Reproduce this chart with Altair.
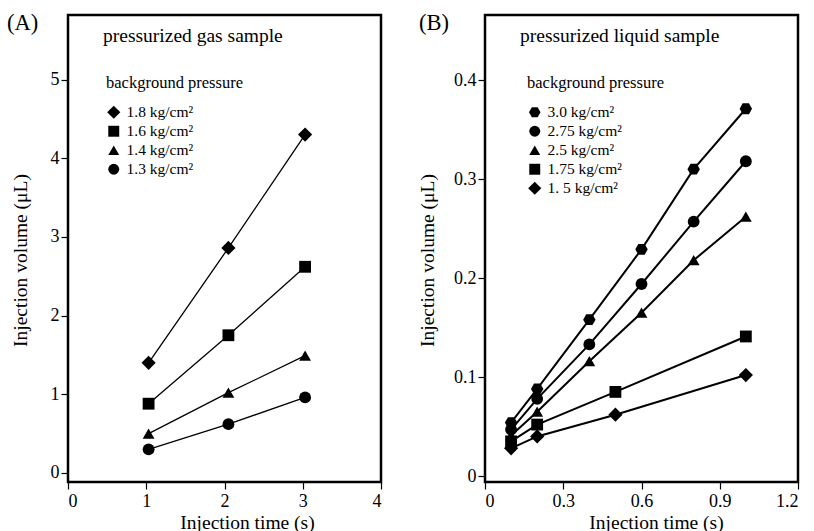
import altair as alt
import pandas as pd

# ---------------- data ----------------
gas_series = ["1.8 kg/cm²", "1.6 kg/cm²", "1.4 kg/cm²", "1.3 kg/cm²"]
gas_time = [1.03, 2.05, 3.03]
gas_18 = [1.40, 2.86, 4.30]
gas_16 = [0.88, 1.75, 2.62]
gas_14 = [0.50, 1.02, 1.49]
gas_13 = [0.30, 0.62, 0.96]

liq_series = ["3.0 kg/cm²", "2.75 kg/cm²", "2.5 kg/cm²", "1.75 kg/cm²", "1. 5 kg/cm²"]
liq_time_hi = [0.1, 0.2, 0.4, 0.6, 0.8, 1.0]
liq_time_lo = [0.1, 0.2, 0.5, 1.0]
liq_30 = [0.054, 0.088, 0.158, 0.229, 0.310, 0.371]
liq_275 = [0.047, 0.078, 0.133, 0.194, 0.257, 0.318]
liq_25 = [0.041, 0.065, 0.116, 0.165, 0.218, 0.262]
liq_175 = [0.035, 0.052, 0.085, 0.141]
liq_15 = [0.028, 0.040, 0.062, 0.102]

gas_ticks = [0, 1, 2, 3, 4, 5]
gas_xticks = [0, 1, 2, 3, 4]
liq_ticks = [0, 0.1, 0.2, 0.3, 0.4]
liq_xticks = [0, 0.3, 0.6, 0.9, 1.2]

# ---------------- tables ----------------
def table(series_names, times_list, values_list):
    rows = []
    for name, times, vals in zip(series_names, times_list, values_list):
        for t, v in zip(times, vals):
            rows.append({"series": name, "time": t, "volume": v})
    return pd.DataFrame(rows)

gas_df = table(gas_series, [gas_time] * 4, [gas_18, gas_16, gas_14, gas_13])
liq_df = table(
    liq_series,
    [liq_time_hi, liq_time_hi, liq_time_hi, liq_time_lo, liq_time_lo],
    [liq_30, liq_275, liq_25, liq_175, liq_15],
)

HEX = "M-1.05,0L-0.53,-0.91L0.53,-0.91L1.05,0L0.53,0.91L-0.53,0.91Z"
DIAMOND = "M-1.2,0L0,-1.2L1.2,0L0,1.2Z"
FONT = "Liberation Serif"
W, H = 313, 467


def panel(df, series, shapes, xdom, ydom, xticks, yticks, letter, letter_x, title,
          leg_x, leg_y, ytitle_x, xtitle_x, line_w):
    base = alt.Chart(df)
    x = alt.X(
        "time:Q",
        scale=alt.Scale(domain=xdom, nice=False, zero=False),
        axis=alt.Axis(
            values=xticks, title="Injection time (s)",
            labelExpr="datum.value == 0 ? '0' : format(datum.value, '~g')",
            titleX=xtitle_x, titleY=40, titleBaseline="middle",
            titleAlign="center",
        ),
    )
    y = alt.Y(
        "volume:Q",
        scale=alt.Scale(domain=ydom, nice=False, zero=False),
        axis=alt.Axis(
            values=yticks, title="Injection volume (μL)",
            labelExpr="datum.value == 0 ? '0' : format(datum.value, '~g')",
            titleX=ytitle_x, titleY=245, titleBaseline="middle",
            titleAlign="center",
        ),
    )
    lines = base.mark_line(color="black", strokeWidth=line_w).encode(
        x=x, y=y, detail="series:N", order="time:Q"
    )
    pts = base.mark_point(filled=True, color="black", opacity=1, size=140).encode(
        x=x, y=y,
        shape=alt.Shape(
            "series:N",
            scale=alt.Scale(domain=series, range=shapes),
            legend=alt.Legend(
                title="background pressure", orient="none",
                legendX=leg_x, legendY=leg_y,
                titleFont=FONT, titleFontSize=16.5, titleFontWeight="normal",
                titleColor="black", titlePadding=13,
                labelFont=FONT, labelFontSize=15.5, labelColor="black",
                symbolSize=120, symbolFillColor="black", symbolStrokeColor="black",
                rowPadding=2, labelOffset=5,
                padding=0,
            ),
        ),
    )
    t_letter = alt.Chart().mark_text(
        text=letter, font=FONT, fontSize=22.5, align="left", baseline="alphabetic",
        color="black",
    ).encode(x=alt.value(letter_x), y=alt.value(15))
    t_title = alt.Chart().mark_text(
        text=title, font=FONT, fontSize=19.5, align="left", baseline="alphabetic",
        color="black",
    ).encode(x=alt.value(35), y=alt.value(27))
    return alt.layer(lines, pts, t_letter, t_title).properties(width=W, height=H)


A = panel(gas_df, gas_series, [DIAMOND, "square", "triangle-up", "circle"],
          [0, 4], [-0.115, 5.82], gas_xticks, gas_ticks, "(A)", -61,
          "pressurized gas sample", 38, 60, -48, 179, 1.3)
B = panel(liq_df, liq_series, [HEX, "circle", "triangle-up", "square", DIAMOND],
          [0, 1.2], [-0.006, 0.4657], liq_xticks, liq_ticks, "(B)", -66,
          "pressurized liquid sample", 42, 60, -58, 171, 2.0)

chart = (
    alt.hconcat(A, B, spacing=32)
    .resolve_scale(shape="independent", x="independent", y="independent")
    .configure(padding={"left": 5, "top": 10, "right": 0, "bottom": 0})
    .configure_view(stroke="black", strokeWidth=2.5, fill="white")
    .configure_axis(
        domain=False, grid=False, ticks=True, tickColor="black", tickWidth=1.2,
        tickSize=7, labelFont=FONT, labelFontSize=18, labelColor="black",
        labelPadding=2, titleFont=FONT, titleFontSize=19.5,
        titleFontWeight="normal", titleColor="black",
    )
    .configure_axisX(labelPadding=3)
    .configure_legend(symbolStrokeWidth=0)
    .properties(background="white")
)

chart.save("out.html", embed_options={"renderer": "svg", "actions": False})
